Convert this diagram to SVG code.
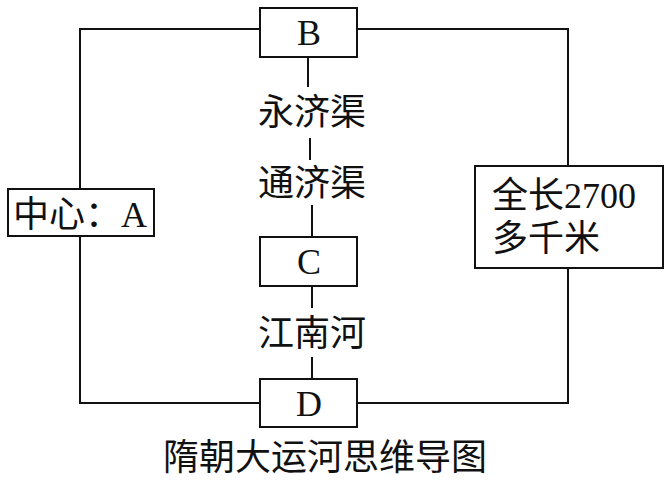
<svg xmlns="http://www.w3.org/2000/svg" width="666" height="480" viewBox="0 0 666 480">
<style>
.box{fill:#fff;stroke:#111;stroke-width:2}
.ln{fill:none;stroke:#111;stroke-width:2}
text{font-family:"Liberation Serif","Noto Sans CJK SC",serif;fill:#111;font-size:36px}
.c{text-anchor:middle}
</style>
<rect width="666" height="480" fill="#fff"/>
<g id="connectors">
<polyline class="ln" points="80,189 80,29 260,29"/>
<polyline class="ln" points="357,29 568,29 568,166"/>
<polyline class="ln" points="80,236 80,403 260,403"/>
<polyline class="ln" points="357,403 568,403 568,268"/>
<line class="ln" x1="308" y1="57" x2="308" y2="87"/>
<line class="ln" x1="310" y1="138" x2="310" y2="160"/>
<line class="ln" x1="312" y1="205" x2="312" y2="237"/>
<line class="ln" x1="312" y1="286" x2="312" y2="308"/>
<line class="ln" x1="312" y1="357" x2="312" y2="379"/>
</g>
<g id="B"><rect class="box" x="260" y="8" width="97" height="49"/><text class="c" x="309" y="45">B</text></g>
<g id="A"><rect class="box" x="8" y="189" width="146" height="47"/><text x="13" y="227">中心：A</text></g>
<g id="total"><rect class="box" x="475" y="166" width="188" height="102"/><text x="492" y="208" font-size="37">全长2700</text><text x="492" y="251" font-size="37">多千米</text></g>
<g id="label1"><text class="c" x="312" y="125" font-size="37">永济渠</text></g>
<g id="label2"><text class="c" x="312" y="196" font-size="37">通济渠</text></g>
<g id="C"><rect class="box" x="260" y="237" width="97" height="49"/><text class="c" x="309" y="274">C</text></g>
<g id="label3"><text class="c" x="312" y="346" font-size="37">江南河</text></g>
<g id="D"><rect class="box" x="260" y="379" width="97" height="48"/><text class="c" x="309" y="416">D</text></g>
<g id="title"><text class="c" x="325" y="470" font-size="37">隋朝大运河思维导图</text></g>
</svg>
